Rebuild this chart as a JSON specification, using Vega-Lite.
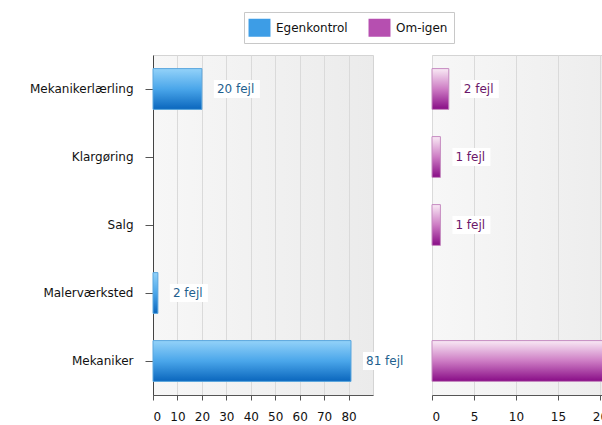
{
  "$schema": "https://vega.github.io/schema/vega-lite/v6.json",
  "padding": {"left": 28, "top": 11, "right": 0, "bottom": 0},
  "background": "white",
  "config": {
    "font": "DejaVu Sans",
    "view": {"stroke": "#d4d4d4", "fill": {"gradient": "linear", "x1": 0, "y1": 0, "x2": 1, "y2": 0, "stops": [{"offset": 0, "color": "#f7f7f7"}, {"offset": 1, "color": "#ebebeb"}]}},
    "axis": {"labelFont": "DejaVu Sans", "labelFontSize": 12, "labelColor": "#111", "domainColor": "#555", "tickColor": "#555", "title": null}
  },
  "data": {
    "values": [
      {"kategori": "Mekanikerlærling", "type": "Egenkontrol", "fejl": 20, "label": "20 fejl"},
      {"kategori": "Malerværksted", "type": "Egenkontrol", "fejl": 2, "label": "2 fejl"},
      {"kategori": "Mekaniker", "type": "Egenkontrol", "fejl": 81, "label": "81 fejl"},
      {"kategori": "Mekanikerlærling", "type": "Om-igen", "fejl": 2, "label": "2 fejl"},
      {"kategori": "Klargøring", "type": "Om-igen", "fejl": 1, "label": "1 fejl"},
      {"kategori": "Salg", "type": "Om-igen", "fejl": 1, "label": "1 fejl"},
      {"kategori": "Mekaniker", "type": "Om-igen", "fejl": 23, "label": "23 fejl"}
    ]
  },
  "resolve": {"scale": {"color": "shared"}, "legend": {"color": "shared"}},
  "spacing": 21,
  "hconcat": [
    {
      "width": 220,
      "height": 340,
      "transform": [{"filter": "datum.type === 'Egenkontrol'"}],
      "encoding": {
        "y": {"field": "kategori", "type": "nominal", "sort": ["Mekanikerlærling", "Klargøring", "Salg", "Malerværksted", "Mekaniker"],
              "scale": {"domain": ["Mekanikerlærling", "Klargøring", "Salg", "Malerværksted", "Mekaniker"], "paddingInner": 0.4, "paddingOuter": 0.2},
              "axis": {"tickSize": 8, "labelPadding": 12, "domainColor": "#444"}},
        "x": {"field": "fejl", "type": "quantitative", "scale": {"domain": [0, 90], "nice": false},
              "axis": {"values": [0, 10, 20, 30, 40, 50, 60, 70, 80], "grid": true, "gridColor": "#dadada", "tickSize": 5, "labelPadding": 11}}
      },
      "layer": [
        {
          "mark": {"type": "bar", "stroke": "#5aa6dd", "strokeWidth": 1,
            "fill": {"gradient": "linear", "x1": 0, "y1": 0, "x2": 0, "y2": 1, "stops": [{"offset": 0, "color": "#93d2f9"}, {"offset": 0.5, "color": "#4aa6ea"}, {"offset": 1, "color": "#0a66bd"}]}}
        },
        {
          "mark": {"type": "bar", "opacity": 0},
          "encoding": {
            "color": {"field": "type", "type": "nominal",
              "scale": {"domain": ["Egenkontrol", "Om-igen"], "range": ["#3d9de6", "#b64fb0"]},
              "legend": {"title": null, "orient": "none", "legendX": 91, "legendY": -43, "direction": "horizontal",
                "symbolType": "M-1.22,-1H1.22V1H-1.22Z", "symbolSize": 324, "symbolStrokeWidth": 1, "symbolOpacity": 1,
                "labelFontSize": 12, "labelFont": "DejaVu Sans", "labelColor": "#111", "labelOffset": 7, "columnPadding": 20,
                "padding": 6, "strokeColor": "#c8c8c8", "fillColor": "white"}}
          }
        },
        {
          "mark": {"type": "bar", "fill": "white", "height": 18, "xOffset": 12, "x2Offset": {"expr": "12 + (length(datum.label) > 6 ? 46 : 38)"}},
          "encoding": {"x2": {"field": "fejl"}}
        },
        {
          "mark": {"type": "text", "align": "left", "dx": 15, "fontSize": 12, "font": "DejaVu Sans", "fill": "#1f5f8e"},
          "encoding": {"text": {"field": "label"}}
        }
      ]
    },
    {
      "width": 210,
      "height": 340,
      "transform": [{"filter": "datum.type === 'Om-igen'"}],
      "encoding": {
        "y": {"field": "kategori", "type": "nominal", "sort": ["Mekanikerlærling", "Klargøring", "Salg", "Malerværksted", "Mekaniker"],
              "scale": {"domain": ["Mekanikerlærling", "Klargøring", "Salg", "Malerværksted", "Mekaniker"], "paddingInner": 0.4, "paddingOuter": 0.2},
              "axis": null},
        "x": {"field": "fejl", "type": "quantitative", "scale": {"domain": [0, 25], "nice": false},
              "axis": {"values": [0, 5, 10, 15, 20, 25], "grid": true, "gridColor": "#dadada", "tickSize": 5, "labelPadding": 11}}
      },
      "layer": [
        {
          "mark": {"type": "bar", "stroke": "#c58bc0", "strokeWidth": 1,
            "fill": {"gradient": "linear", "x1": 0, "y1": 0, "x2": 0, "y2": 1, "stops": [{"offset": 0, "color": "#f9eaf5"}, {"offset": 0.5, "color": "#cd7cc4"}, {"offset": 1, "color": "#880c86"}]}}
        },
        {
          "mark": {"type": "bar", "opacity": 0},
          "encoding": {"color": {"field": "type", "type": "nominal"}}
        },
        {
          "mark": {"type": "bar", "fill": "white", "height": 18, "xOffset": 12, "x2Offset": {"expr": "12 + (length(datum.label) > 6 ? 46 : 38)"}},
          "encoding": {"x2": {"field": "fejl"}}
        },
        {
          "mark": {"type": "text", "align": "left", "dx": 15, "fontSize": 12, "font": "DejaVu Sans", "fill": "#6b1769"},
          "encoding": {"text": {"field": "label"}}
        }
      ]
    }
  ]
}
